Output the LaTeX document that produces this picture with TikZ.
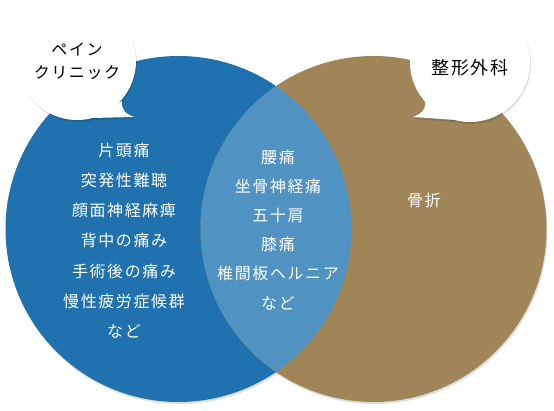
\documentclass[tikz,border=0pt]{standalone}
\usepackage{fontspec}
\newfontfamily\jpfont{Noto Sans CJK JP}[LetterSpace=10]
\usetikzlibrary{positioning}
\definecolor{painblue}  {RGB}{31, 114, 173}
\definecolor{lensblue}  {RGB}{80, 146, 193}
\definecolor{orthobrown}{RGB}{160, 133, 89}

\tikzset{
  listtext/.style={white,font=\jpfont\fontsize{16}{20}\selectfont},
  bubbletext/.style={black,font=\jpfont\fontsize{16}{23}\selectfont,align=center},
  softshadow/.style={fill=black,opacity=0.13,shift={(1pt,-2pt)}}
}

\begin{document}
\begin{tikzpicture}[x=1pt,y=-1pt]
      \useasboundingbox (0,0) rectangle (554,411);
      % circles
      \fill[softshadow] (178.5,229) circle[radius=173pt];
      \fill[softshadow] (373.5,229) circle[radius=173pt];
      \fill[painblue]   (178.5,229) circle[radius=173pt];
      \fill[orthobrown] (373.5,229) circle[radius=173pt];
      \begin{scope}
        \clip (373.5,229) circle[radius=173pt];
        \fill[lensblue] (178.5,229) circle[radius=173pt];
      \end{scope}
      % bubbles
      \fill[softshadow] (77,61) circle[radius=59pt];
      \fill[softshadow] (122,101) .. controls (121,110) and (126,114) .. (134,117) -- (92,118) -- cycle;
      \fill[softshadow] (470,62) circle[radius=60pt];
      \fill[softshadow] (425,102) .. controls (426,110) and (421,114) .. (413,117) -- (455,120) -- cycle;
      \fill[white] (77,61) circle[radius=59pt];
      \fill[white] (122,101) .. controls (121,110) and (126,114) .. (134,117) -- (92,118) -- cycle;
      \fill[white] (470,62) circle[radius=60pt];
      \fill[white] (425,102) .. controls (426,110) and (421,114) .. (413,117) -- (455,120) -- cycle;
      \node[bubbletext] (pain)  at (77,61.5) {ペイン\\クリニック};
      \node[bubbletext,font=\jpfont\fontsize{18}{23}\selectfont] (ortho) at (470,68) {整形外科};
      % lists
      \foreach \txt [count=\i] in {片頭痛,突発性難聴,顔面神経麻痺,背中の痛み,手術後の痛み,慢性疲労症候群,など}
        \node[listtext] (blue\i) at (124,{150+30.3*(\i-1)}) {\txt};
      \foreach \txt [count=\i] in {腰痛,坐骨神経痛,五十肩,膝痛,椎間板ヘルニア,など}
        \node[listtext] (lens\i) at (278,{157+29.2*(\i-1)}) {\txt};
      \node[listtext] (fracture) at (424,200) {骨折};
    \end{tikzpicture}
\end{document}
